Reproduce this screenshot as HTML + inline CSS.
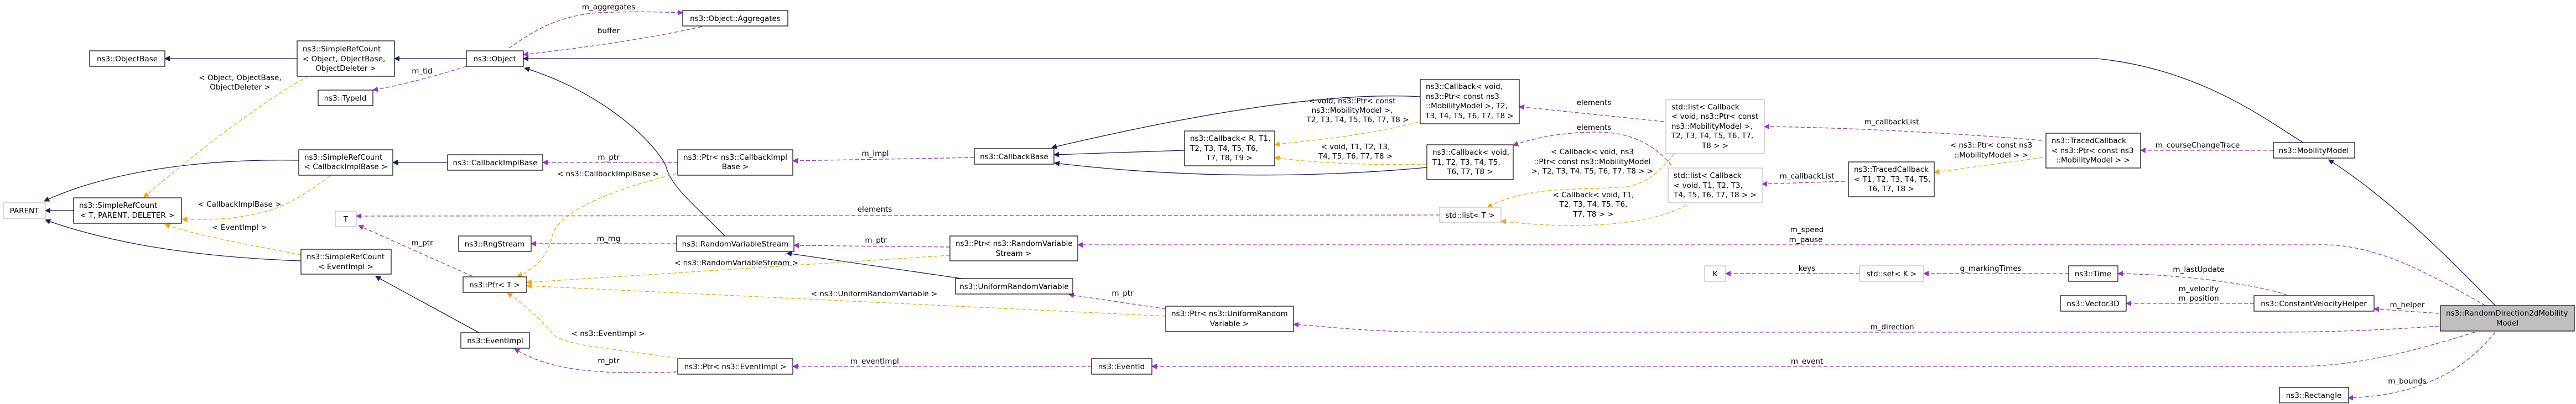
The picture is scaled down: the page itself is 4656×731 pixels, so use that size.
<!DOCTYPE html>
<html><head><meta charset="utf-8"><style>
html,body{margin:0;padding:0;background:#fff;}
svg{display:block;}
text{font-family:"DejaVu Sans","Liberation Sans",sans-serif;font-size:13.5px;fill:#000;}
.n{fill:#fff;stroke:#000;stroke-width:1.2;}
.g{fill:#fff;stroke:#bfbfbf;stroke-width:1.2;}
.s{fill:none;stroke:#191970;stroke-width:1.3;}
.o{fill:none;stroke:#ffa500;stroke-width:1.3;stroke-dasharray:7,4;}
.p{fill:none;stroke:#9a32cd;stroke-width:1.3;stroke-dasharray:7,4;}
.l{text-anchor:start;}
</style></head><body>
<svg width="4656" height="731" viewBox="0 0 4656 731" xmlns="http://www.w3.org/2000/svg">
<defs>
<marker id="an" viewBox="0 0 10 10" refX="9" refY="5" markerWidth="12" markerHeight="10" markerUnits="userSpaceOnUse" orient="auto"><path d="M0,0L10,5L0,10z" fill="#191970"/></marker>
<marker id="ao" viewBox="0 0 10 10" refX="9" refY="5" markerWidth="12" markerHeight="10" markerUnits="userSpaceOnUse" orient="auto"><path d="M0,0L10,5L0,10z" fill="#ffa500"/></marker>
<marker id="ap" viewBox="0 0 10 10" refX="9" refY="5" markerWidth="12" markerHeight="10" markerUnits="userSpaceOnUse" orient="auto"><path d="M0,0L10,5L0,10z" fill="#9a32cd"/></marker>
</defs>

<g marker-end="url(#an)">
<path class="s" d="M537,106 L298,106"/>
<path class="s" d="M843,106 L713,106"/>
<path class="s" d="M540,290 C300,286 150,330 80,364"/>
<path class="s" d="M133,381 L82,381"/>
<path class="s" d="M544,472 C350,465 200,440 82,398"/>
<path class="s" d="M866,602 L679,500"/>
<path class="s" d="M809,294 L710,294"/>
<path class="s" d="M4163,258 C4100,220 3980,125 3790,106 L946,106"/>
<path class="s" d="M1310,427 C1260,375 1215,340 1205,305 C1195,270 1100,170 948,123"/>
<path class="s" d="M1738,504 L1422,458"/>
<path class="s" d="M2567,175 C2450,168 2250,185 1901,267"/>
<path class="s" d="M2141,272 L1905,280"/>
<path class="s" d="M2579,303 C2450,315 2200,330 1906,295"/>
<path class="s" d="M4510,553 C4430,470 4320,360 4209,289"/>
</g>

<g marker-end="url(#ao)">
<path class="o" d="M557,138 C480,180 360,270 260,357"/>
<path class="o" d="M597,318 C560,345 520,375 470,385 C420,398 380,397 329,397"/>
<path class="o" d="M544,461 C460,445 350,425 298,406"/>
<path class="o" d="M1223,314 C1100,345 1020,380 1000,420 C990,470 960,490 935,500"/>
<path class="o" d="M1717,462 L952,511"/>
<path class="o" d="M2107,572 L952,517"/>
<path class="o" d="M1223,648 C1100,630 1020,625 1000,605 C970,570 940,545 917,530"/>
<path class="o" d="M2563,221 C2450,250 2350,255 2304,262"/>
<path class="o" d="M2579,297 C2450,300 2350,292 2304,285"/>
<path class="o" d="M3025,279 C3000,310 2980,330 2940,338 C2850,345 2760,335 2688,376"/>
<path class="o" d="M3048,371 C3000,400 2880,420 2713,400"/>
<path class="o" d="M3692,285 L3496,312"/>
</g>

<g marker-end="url(#ap)">
<path class="p" d="M843,120 C780,140 720,155 674,163"/>
<path class="p" d="M920,87 C960,60 1000,30 1080,23 C1150,20 1200,22 1234,23"/>
<path class="p" d="M1269,48 C1150,75 1020,90 946,99"/>
<path class="p" d="M1225,294 L981,294"/>
<path class="p" d="M1761,285 L1433,291"/>
<path class="p" d="M2602,389 L644,391"/>
<path class="p" d="M854,500 L648,408"/>
<path class="p" d="M1223,441 L960,441"/>
<path class="p" d="M1717,447 L1435,444"/>
<path class="p" d="M2107,559 L1932,533"/>
<path class="p" d="M1223,673 C1100,677 1000,675 930,631"/>
<path class="p" d="M1973,663 L1433,663"/>
<path class="p" d="M3007,220 L2746,193"/>
<path class="p" d="M3021,299 C2980,250 2930,238 2880,239 C2820,240 2770,250 2735,263"/>
<path class="p" d="M3690,254 C3500,238 3300,230 3189,229"/>
<path class="p" d="M3335,328 L3185,333"/>
<path class="p" d="M4109,272 L3869,272"/>
<path class="p" d="M3361,495 L3119,495"/>
<path class="p" d="M3739,495 L3477,495"/>
<path class="p" d="M4134,534 C4080,515 3950,497 3828,495"/>
<path class="p" d="M4074,549 L3843,549"/>
<path class="p" d="M4408,567 L4291,559"/>
<path class="p" d="M4492,553 C4400,500 4300,443 4201,443 L1948,443"/>
<path class="p" d="M4408,590 C4300,598 4200,601 4100,601 L2600,601 C2450,600 2400,590 2338,587"/>
<path class="p" d="M4473,601 C4350,640 4250,663 4150,663 L2082,663"/>
<path class="p" d="M4510,601 C4470,650 4400,715 4244,720"/>
</g>

<g text-anchor="middle">
<rect class="n" x="162" y="92" width="136" height="28"/><text x="230" y="111">ns3::ObjectBase</text>
<rect class="n" x="537" y="74" width="176" height="64"/><text class="l" x="547" y="93">ns3::SimpleRefCount</text><text class="l" x="547" y="111">&lt; Object, ObjectBase,</text><text x="625" y="128">ObjectDeleter &gt;</text>
<rect class="n" x="575" y="163" width="99" height="28"/><text x="624" y="182">ns3::TypeId</text>
<rect class="n" x="540" y="271" width="170" height="46"/><text class="l" x="550" y="289">ns3::SimpleRefCount</text><text x="625" y="306">&lt; CallbackImplBase &gt;</text>
<rect class="g" x="6" y="367" width="76" height="28"/><text x="44" y="386">PARENT</text>
<rect class="n" x="133" y="358" width="195" height="46"/><text class="l" x="143" y="376">ns3::SimpleRefCount</text><text x="230" y="394">&lt; T, PARENT, DELETER &gt;</text>
<rect class="g" x="606" y="382" width="38" height="28"/><text x="625" y="401">T</text>
<rect class="n" x="544" y="451" width="163" height="45"/><text class="l" x="554" y="469">ns3::SimpleRefCount</text><text x="625" y="487">&lt; EventImpl &gt;</text>
<rect class="n" x="1234" y="19" width="190" height="28"/><text x="1329" y="38">ns3::Object::Aggregates</text>
<rect class="n" x="843" y="92" width="103" height="28"/><text x="894" y="111">ns3::Object</text>
<rect class="n" x="809" y="280" width="172" height="28"/><text x="895" y="299">ns3::CallbackImplBase</text>
<rect class="n" x="1225" y="271" width="208" height="46"/><text class="l" x="1235" y="289">ns3::Ptr&lt; ns3::CallbackImpl</text><text x="1329" y="306">Base &gt;</text>
<rect class="n" x="829" y="427" width="131" height="28"/><text x="894" y="446">ns3::RngStream</text>
<rect class="n" x="1223" y="427" width="212" height="28"/><text x="1329" y="446">ns3::RandomVariableStream</text>
<rect class="n" x="837" y="501" width="115" height="28"/><text x="894" y="520">ns3::Ptr&lt; T &gt;</text>
<rect class="n" x="833" y="602" width="124" height="28"/><text x="895" y="621">ns3::EventImpl</text>
<rect class="n" x="1225" y="649" width="208" height="28"/><text x="1329" y="668">ns3::Ptr&lt; ns3::EventImpl &gt;</text>
<rect class="n" x="1761" y="269" width="144" height="28"/><text x="1833" y="288">ns3::CallbackBase</text>
<rect class="n" x="2141" y="237" width="163" height="63"/><text class="l" x="2151" y="255">ns3::Callback&lt; R, T1,</text><text class="l" x="2151" y="273">T2, T3, T4, T5, T6,</text><text x="2222" y="290">T7, T8, T9 &gt;</text>
<rect class="n" x="1717" y="427" width="231" height="45"/><text class="l" x="1727" y="445">ns3::Ptr&lt; ns3::RandomVariable</text><text x="1832" y="463">Stream &gt;</text>
<rect class="n" x="1727" y="504" width="212" height="28"/><text x="1833" y="523">ns3::UniformRandomVariable</text>
<rect class="n" x="2107" y="554" width="231" height="46"/><text class="l" x="2117" y="572">ns3::Ptr&lt; ns3::UniformRandom</text><text x="2222" y="590">Variable &gt;</text>
<rect class="n" x="1973" y="649" width="109" height="28"/><text x="2027" y="668">ns3::EventId</text>
<rect class="n" x="2567" y="144" width="179" height="80"/><text class="l" x="2577" y="161">ns3::Callback&lt; void,</text><text class="l" x="2577" y="179">ns3::Ptr&lt; const ns3</text><text class="l" x="2577" y="196">::MobilityModel &gt;, T2,</text><text x="2656" y="214">T3, T4, T5, T6, T7, T8 &gt;</text>
<rect class="n" x="2579" y="262" width="156" height="63"/><text class="l" x="2589" y="280">ns3::Callback&lt; void,</text><text class="l" x="2589" y="298">T1, T2, T3, T4, T5,</text><text x="2657" y="315">T6, T7, T8 &gt;</text>
<rect class="g" x="2602" y="375" width="111" height="28"/><text x="2657" y="394">std::list&lt; T &gt;</text>
<rect class="g" x="3011" y="180" width="178" height="98"/><text class="l" x="3021" y="198">std::list&lt; Callback</text><text class="l" x="3021" y="215">&lt; void, ns3::Ptr&lt; const</text><text class="l" x="3021" y="233">ns3::MobilityModel &gt;,</text><text class="l" x="3021" y="250">T2, T3, T4, T5, T6, T7,</text><text x="3100" y="268">T8 &gt; &gt;</text>
<rect class="g" x="3015" y="304" width="170" height="63"/><text class="l" x="3025" y="322">std::list&lt; Callback</text><text class="l" x="3025" y="340">&lt; void, T1, T2, T3,</text><text x="3100" y="357">T4, T5, T6, T7, T8 &gt; &gt;</text>
<rect class="g" x="3081" y="481" width="38" height="28"/><text x="3100" y="500">K</text>
<rect class="n" x="3698" y="241" width="171" height="63"/><text class="l" x="3708" y="259">ns3::TracedCallback</text><text class="l" x="3708" y="277">&lt; ns3::Ptr&lt; const ns3</text><text x="3783" y="294">::MobilityModel &gt; &gt;</text>
<rect class="n" x="3341" y="293" width="155" height="63"/><text class="l" x="3351" y="311">ns3::TracedCallback</text><text class="l" x="3351" y="329">&lt; T1, T2, T3, T4, T5,</text><text x="3418" y="346">T6, T7, T8 &gt;</text>
<rect class="g" x="3361" y="481" width="116" height="28"/><text x="3419" y="500">std::set&lt; K &gt;</text>
<rect class="n" x="3739" y="481" width="89" height="28"/><text x="3783" y="500">ns3::Time</text>
<rect class="n" x="3724" y="535" width="119" height="28"/><text x="3783" y="554">ns3::Vector3D</text>
<rect class="n" x="4109" y="258" width="147" height="28"/><text x="4182" y="277">ns3::MobilityModel</text>
<rect class="n" x="4074" y="535" width="217" height="28"/><text x="4182" y="554">ns3::ConstantVelocityHelper</text>
<rect x="4411" y="553" width="242" height="46" fill="#bfbfbf" stroke="#000" stroke-width="1.2"/><text class="l" x="4421" y="571">ns3::RandomDirection2dMobility</text><text x="4532" y="589">Model</text>
<rect class="n" x="4120" y="701" width="125" height="28"/><text x="4182" y="720">ns3::Rectangle</text>
</g>

<g text-anchor="middle">
<text x="434" y="145">&lt; Object, ObjectBase,</text><text x="434" y="162">ObjectDeleter &gt;</text>
<text x="763" y="133">m_tid</text>
<text x="433" y="374">&lt; CallbackImplBase &gt;</text>
<text x="433" y="416">&lt; EventImpl &gt;</text>
<text x="763" y="444">m_ptr</text>
<text x="1100" y="17">m_aggregates</text>
<text x="1100" y="60">buffer</text>
<text x="1100" y="289">m_ptr</text>
<text x="1099" y="319">&lt; ns3::CallbackImplBase &gt;</text>
<text x="1581" y="383">elements</text>
<text x="1100" y="436">m_rng</text>
<text x="1331" y="480">&lt; ns3::RandomVariableStream &gt;</text>
<text x="1583" y="439">m_ptr</text>
<text x="1580" y="536">&lt; ns3::UniformRandomVariable &gt;</text>
<text x="1099" y="608">&lt; ns3::EventImpl &gt;</text>
<text x="1100" y="657">m_ptr</text>
<text x="1581" y="658">m_eventImpl</text>
<text x="1582" y="282">m_impl</text>
<text x="2029" y="535">m_ptr</text>
<text x="2444" y="187">&lt; void, ns3::Ptr&lt; const</text><text x="2444" y="204">ns3::MobilityModel &gt;,</text><text x="2454" y="221">T2, T3, T4, T5, T6, T7, T8 &gt;</text>
<text x="2450" y="270">&lt; void, T1, T2, T3,</text><text x="2450" y="287">T4, T5, T6, T7, T8 &gt;</text>
<text x="2881" y="190">elements</text>
<text x="2881" y="235">elements</text>
<text x="2878" y="279">&lt; Callback&lt; void, ns3</text><text x="2878" y="297">::Ptr&lt; const ns3::MobilityModel</text><text x="2878" y="314">&gt;, T2, T3, T4, T5, T6, T7, T8 &gt; &gt;</text>
<text x="2880" y="357">&lt; Callback&lt; void, T1,</text><text x="2880" y="374">T2, T3, T4, T5, T6,</text><text x="2880" y="392">T7, T8 &gt; &gt;</text>
<text x="3419" y="225">m_callbackList</text>
<text x="3266" y="323">m_callbackList</text>
<text x="3599" y="267">&lt; ns3::Ptr&lt; const ns3</text><text x="3599" y="285">::MobilityModel &gt; &gt;</text>
<text x="3972" y="267">m_courseChangeTrace</text>
<text x="3266" y="420">m_speed</text><text x="3264" y="438">m_pause</text>
<text x="3266" y="490">keys</text>
<text x="3598" y="490">g_markingTimes</text>
<text x="3974" y="492">m_lastUpdate</text>
<text x="3974" y="527">m_velocity</text><text x="3974" y="544">m_position</text>
<text x="3420" y="596">m_direction</text>
<text x="3266" y="658">m_event</text>
<text x="4351" y="556">m_helper</text>
<text x="4351" y="694">m_bounds</text>
</g>
</svg>
</body></html>
